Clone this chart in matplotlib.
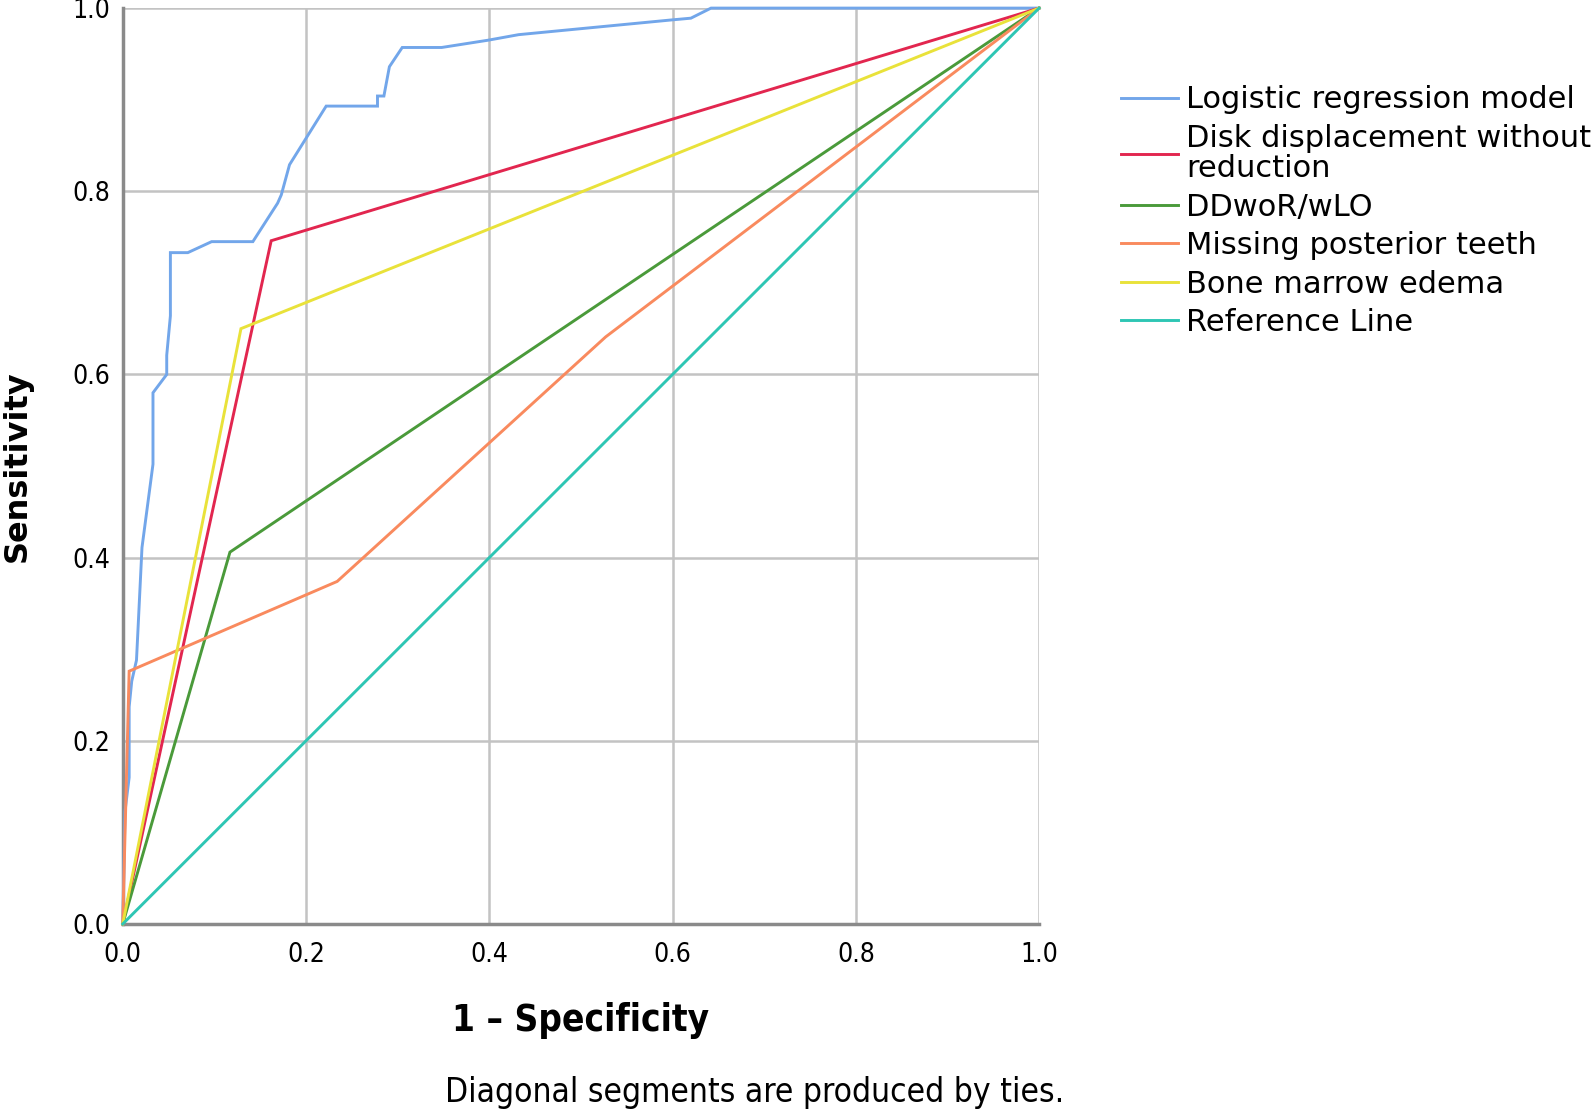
import matplotlib
matplotlib.use("Agg")
import matplotlib.pyplot as plt

# ---- data (1 - specificity, sensitivity) ----
lr_fpr = [0.0, 0.0025, 0.007, 0.007, 0.0098, 0.015, 0.021, 0.033, 0.033, 0.048, 0.048, 0.052, 0.052,
          0.071, 0.097, 0.142, 0.169, 0.173, 0.182, 0.222, 0.278, 0.278, 0.285, 0.291, 0.305, 0.348,
          0.399, 0.432, 0.598, 0.620, 0.642, 1.0]
lr_tpr = [0.0, 0.123, 0.160, 0.237, 0.265, 0.288, 0.411, 0.502, 0.580, 0.600, 0.621, 0.664, 0.733,
          0.733, 0.745, 0.745, 0.787, 0.796, 0.829, 0.893, 0.893, 0.904, 0.904, 0.936, 0.957, 0.957,
          0.965, 0.971, 0.987, 0.989, 1.0, 1.0]

dd_fpr = [0.0, 0.162, 1.0]
dd_tpr = [0.0, 0.746, 1.0]

ddwor_fpr = [0.0, 0.117, 1.0]
ddwor_tpr = [0.0, 0.406, 1.0]

mpt_fpr = [0.0, 0.007, 0.234, 0.527, 1.0]
mpt_tpr = [0.0, 0.276, 0.374, 0.641, 1.0]

bme_fpr = [0.0, 0.129, 1.0]
bme_tpr = [0.0, 0.650, 1.0]

ref_fpr = [0.0, 1.0]
ref_tpr = [0.0, 1.0]

labels = ["Logistic regression model", "Disk displacement without\nreduction", "DDwoR/wLO",
          "Missing posterior teeth", "Bone marrow edema", "Reference Line"]
colors = ["#72a6ea", "#e2264f", "#4a9a3a", "#f98a5e", "#e9e23a", "#2ec6b4"]

tick_vals = [0.0, 0.2, 0.4, 0.6, 0.8, 1.0]
tick_labels = ["0.0", "0.2", "0.4", "0.6", "0.8", "1.0"]

plt.rcParams['font.family'] = ['DejaVu Sans']

fig = plt.figure(figsize=(15.92, 11.10), dpi=100)
ax = fig.add_axes([0.0771, 0.1676, 0.5756, 0.8251])

series = [(lr_fpr, lr_tpr), (dd_fpr, dd_tpr), (ddwor_fpr, ddwor_tpr),
          (mpt_fpr, mpt_tpr), (bme_fpr, bme_tpr), (ref_fpr, ref_tpr)]
for (x, y), lab, c in zip(series, labels, colors):
    ax.plot(x, y, color=c, lw=2.1, label=lab, solid_joinstyle='miter', clip_on=False, zorder=3)

ax.set_xlim(0, 1)
ax.set_ylim(0, 1)
ax.set_xticks(tick_vals)
ax.set_xticklabels(tick_labels)
ax.set_yticks(tick_vals)
ax.set_yticklabels(tick_labels)
ax.tick_params(length=0, labelsize=19)
ax.tick_params(axis='x', pad=13)
ax.tick_params(axis='y', pad=9)
for t in ax.get_xticklabels() + ax.get_yticklabels():
    t.set_fontstretch('condensed')

ax.grid(True, color="#c3c3c3", lw=1.8, zorder=0)
ax.set_axisbelow(True)
for s in ["top", "right"]:
    ax.spines[s].set_visible(False)
for s in ["left", "bottom"]:
    ax.spines[s].set_color("#8a8a8a")
    ax.spines[s].set_linewidth(2.5)

ax.set_xlabel("1 – Specificity", fontsize=26.5, fontweight="bold", fontstretch='condensed')
ax.xaxis.set_label_coords(0.5, -0.085)
ax.set_ylabel("Sensitivity", fontsize=23, fontweight="bold")
ax.yaxis.set_label_coords(-0.098, 0.5)

leg = fig.legend(loc="upper left", bbox_to_anchor=(0.7042, 0.9231), frameon=False,
                 fontsize=22, handlelength=1.85, handletextpad=0.27, labelspacing=0.31,
                 borderaxespad=0, borderpad=0)
for t in leg.get_texts():
    t.set_linespacing(1.06)

fig.text(0.4737, 0.0162, "Diagonal segments are produced by ties.", fontsize=24,
         ha="center", va="center", fontstretch='condensed')

fig.savefig("out.png", dpi=100)
